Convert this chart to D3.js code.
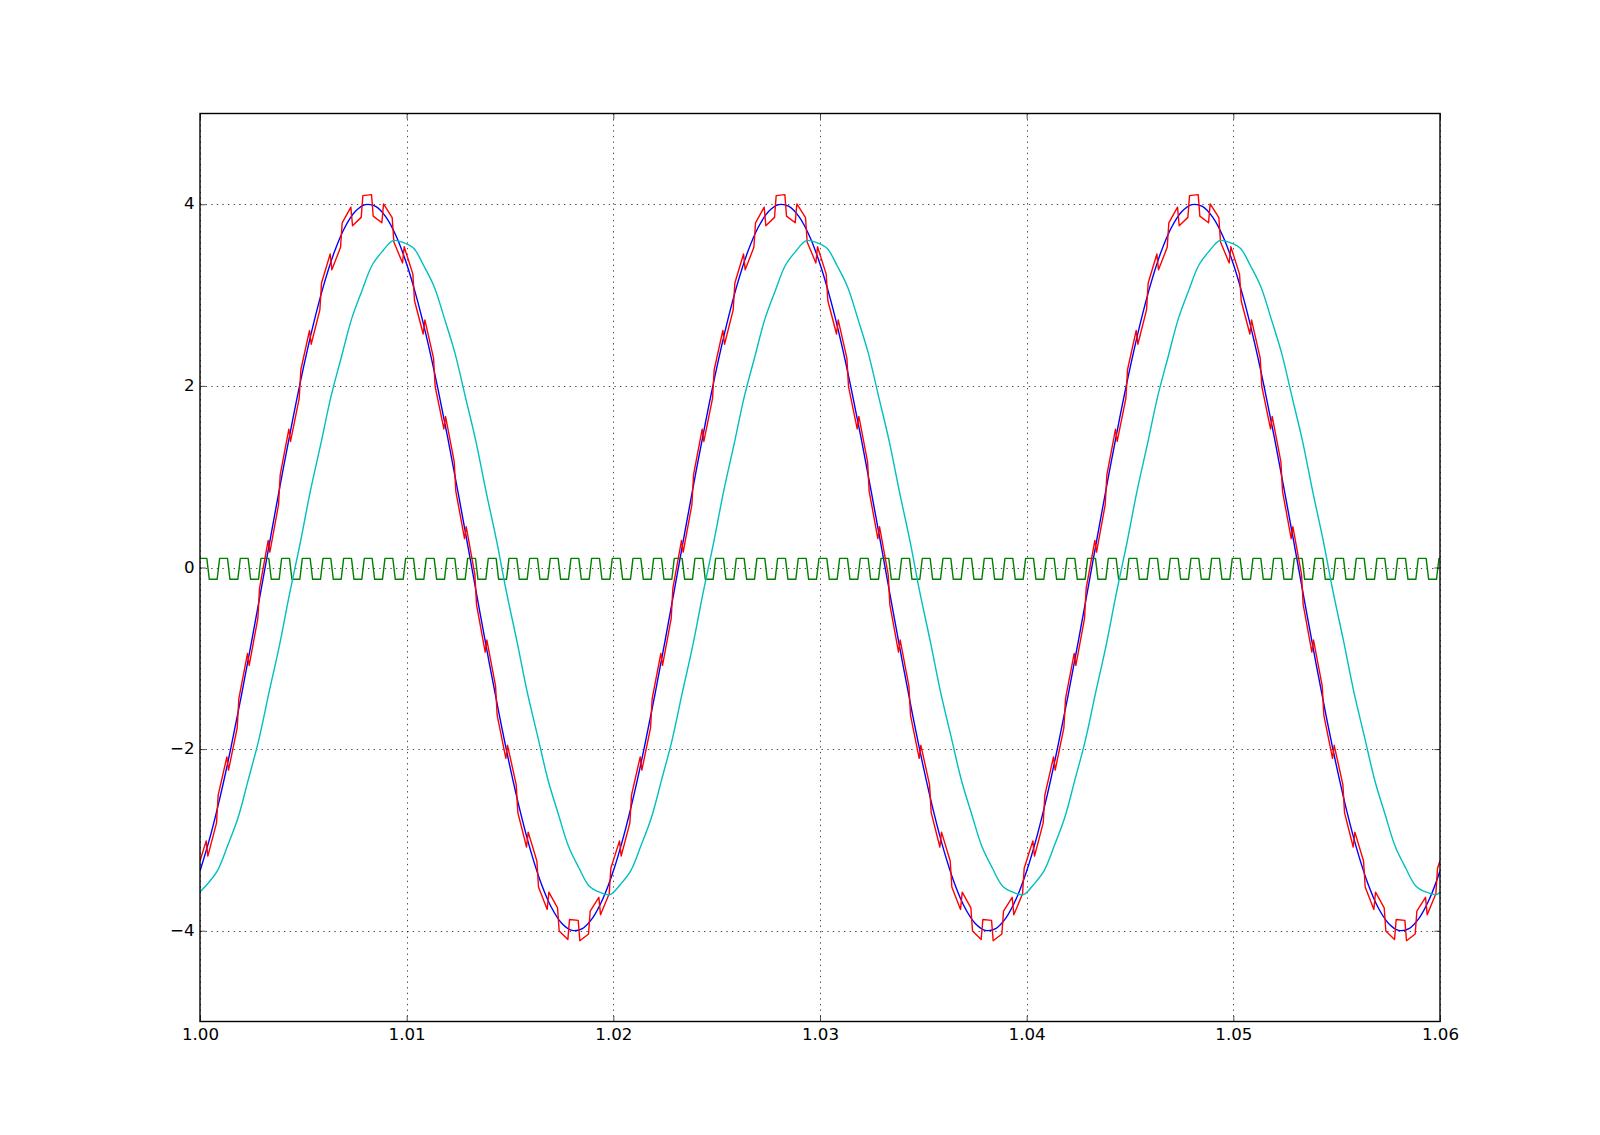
<!DOCTYPE html>
<html>
<head>
<meta charset="utf-8">
<script src="https://cdn.jsdelivr.net/npm/d3@7"></script>
<style>
  html, body { margin: 0; padding: 0; background: #fff; }
  svg { display: block; }
</style>
</head>
<body>
<svg id="chart" width="1600" height="1135"></svg>
<script>
// ---------- data (time in ms after t = 1.00 s) ----------
const xTicks = [0, 10, 20, 30, 40, 50, 60];
const xTickLabels = ["1.00", "1.01", "1.02", "1.03", "1.04", "1.05", "1.06"];
const yTicks = [-4, -2, 0, 2, 4];
const yTickLabels = ["\u22124", "\u22122", "0", "2", "4"];

// blue: reference sine
const blueMs = [
0,0.5,1,1.5,2,2.5,3,3.5,4,4.5,5,5.5,6,6.5,7,7.5,8,8.5,9,9.5,
10,10.5,11,11.5,12,12.5,13,13.5,14,14.5,15,15.5,16,16.5,17,17.5,18,18.5,19,19.5,
20,20.5,21,21.5,22,22.5,23,23.5,24,24.5,25,25.5,26,26.5,27,27.5,28,28.5,29,29.5,
30,30.5,31,31.5,32,32.5,33,33.5,34,34.5,35,35.5,36,36.5,37,37.5,38,38.5,39,39.5,
40,40.5,41,41.5,42,42.5,43,43.5,44,44.5,45,45.5,46,46.5,47,47.5,48,48.5,49,49.5,
50,50.5,51,51.5,52,52.5,53,53.5,54,54.5,55,55.5,56,56.5,57,57.5,58,58.5,59,59.5,
60];
const blueV = [
-3.343,-2.958,-2.501,-1.982,-1.414,-0.811,-0.188,0.439,1.056,1.646,2.196,2.692,3.121,3.474,3.742,3.917,3.996,3.976,3.858,3.646,
3.343,2.958,2.501,1.982,1.414,0.811,0.188,-0.439,-1.056,-1.646,-2.196,-2.692,-3.121,-3.474,-3.742,-3.917,-3.996,-3.976,-3.858,-3.646,
-3.343,-2.958,-2.501,-1.982,-1.414,-0.811,-0.188,0.439,1.056,1.646,2.196,2.692,3.121,3.474,3.742,3.917,3.996,3.976,3.858,3.646,
3.343,2.958,2.501,1.982,1.414,0.811,0.188,-0.439,-1.056,-1.646,-2.196,-2.692,-3.121,-3.474,-3.742,-3.917,-3.996,-3.976,-3.858,-3.646,
-3.343,-2.958,-2.501,-1.982,-1.414,-0.811,-0.188,0.439,1.056,1.646,2.196,2.692,3.121,3.474,3.742,3.917,3.996,3.976,3.858,3.646,
3.343,2.958,2.501,1.982,1.414,0.811,0.188,-0.439,-1.056,-1.646,-2.196,-2.692,-3.121,-3.474,-3.742,-3.917,-3.996,-3.976,-3.858,-3.646,
-3.343];

// green: 1 kHz square ripple
const greenMs = [0,
0.33,0.45,0.83,0.95,1.33,1.45,1.83,1.95,2.33,2.45,2.83,2.95,3.33,3.45,3.83,3.95,4.33,4.45,4.83,4.95,
5.33,5.45,5.83,5.95,6.33,6.45,6.83,6.95,7.33,7.45,7.83,7.95,8.33,8.45,8.83,8.95,9.33,9.45,9.83,9.95,
10.33,10.45,10.83,10.95,11.33,11.45,11.83,11.95,12.33,12.45,12.83,12.95,13.33,13.45,13.83,13.95,14.33,14.45,14.83,14.95,
15.33,15.45,15.83,15.95,16.33,16.45,16.83,16.95,17.33,17.45,17.83,17.95,18.33,18.45,18.83,18.95,19.33,19.45,19.83,19.95,
20.33,20.45,20.83,20.95,21.33,21.45,21.83,21.95,22.33,22.45,22.83,22.95,23.33,23.45,23.83,23.95,24.33,24.45,24.83,24.95,
25.33,25.45,25.83,25.95,26.33,26.45,26.83,26.95,27.33,27.45,27.83,27.95,28.33,28.45,28.83,28.95,29.33,29.45,29.83,29.95,
30.33,30.45,30.83,30.95,31.33,31.45,31.83,31.95,32.33,32.45,32.83,32.95,33.33,33.45,33.83,33.95,34.33,34.45,34.83,34.95,
35.33,35.45,35.83,35.95,36.33,36.45,36.83,36.95,37.33,37.45,37.83,37.95,38.33,38.45,38.83,38.95,39.33,39.45,39.83,39.95,
40.33,40.45,40.83,40.95,41.33,41.45,41.83,41.95,42.33,42.45,42.83,42.95,43.33,43.45,43.83,43.95,44.33,44.45,44.83,44.95,
45.33,45.45,45.83,45.95,46.33,46.45,46.83,46.95,47.33,47.45,47.83,47.95,48.33,48.45,48.83,48.95,49.33,49.45,49.83,49.95,
50.33,50.45,50.83,50.95,51.33,51.45,51.83,51.95,52.33,52.45,52.83,52.95,53.33,53.45,53.83,53.95,54.33,54.45,54.83,54.95,
55.33,55.45,55.83,55.95,56.33,56.45,56.83,56.95,57.33,57.45,57.83,57.95,58.33,58.45,58.83,58.95,59.33,59.45,59.83,59.95,
60];
const greenV = [0.10,
0.10,-0.13,-0.13,0.10,0.10,-0.13,-0.13,0.10,0.10,-0.13,-0.13,0.10,0.10,-0.13,-0.13,0.10,0.10,-0.13,-0.13,0.10,
0.10,-0.13,-0.13,0.10,0.10,-0.13,-0.13,0.10,0.10,-0.13,-0.13,0.10,0.10,-0.13,-0.13,0.10,0.10,-0.13,-0.13,0.10,
0.10,-0.13,-0.13,0.10,0.10,-0.13,-0.13,0.10,0.10,-0.13,-0.13,0.10,0.10,-0.13,-0.13,0.10,0.10,-0.13,-0.13,0.10,
0.10,-0.13,-0.13,0.10,0.10,-0.13,-0.13,0.10,0.10,-0.13,-0.13,0.10,0.10,-0.13,-0.13,0.10,0.10,-0.13,-0.13,0.10,
0.10,-0.13,-0.13,0.10,0.10,-0.13,-0.13,0.10,0.10,-0.13,-0.13,0.10,0.10,-0.13,-0.13,0.10,0.10,-0.13,-0.13,0.10,
0.10,-0.13,-0.13,0.10,0.10,-0.13,-0.13,0.10,0.10,-0.13,-0.13,0.10,0.10,-0.13,-0.13,0.10,0.10,-0.13,-0.13,0.10,
0.10,-0.13,-0.13,0.10,0.10,-0.13,-0.13,0.10,0.10,-0.13,-0.13,0.10,0.10,-0.13,-0.13,0.10,0.10,-0.13,-0.13,0.10,
0.10,-0.13,-0.13,0.10,0.10,-0.13,-0.13,0.10,0.10,-0.13,-0.13,0.10,0.10,-0.13,-0.13,0.10,0.10,-0.13,-0.13,0.10,
0.10,-0.13,-0.13,0.10,0.10,-0.13,-0.13,0.10,0.10,-0.13,-0.13,0.10,0.10,-0.13,-0.13,0.10,0.10,-0.13,-0.13,0.10,
0.10,-0.13,-0.13,0.10,0.10,-0.13,-0.13,0.10,0.10,-0.13,-0.13,0.10,0.10,-0.13,-0.13,0.10,0.10,-0.13,-0.13,0.10,
0.10,-0.13,-0.13,0.10,0.10,-0.13,-0.13,0.10,0.10,-0.13,-0.13,0.10,0.10,-0.13,-0.13,0.10,0.10,-0.13,-0.13,0.10,
0.10,-0.13,-0.13,0.10,0.10,-0.13,-0.13,0.10,0.10,-0.13,-0.13,0.10,0.10,-0.13,-0.13,0.10,0.10,-0.13,-0.13,0.10,
0.10];

// red: sine with 1 kHz ripple
const redMs = [0,
0.3,0.38,0.8,0.88,1.3,1.38,1.8,1.88,2.3,2.38,2.8,2.88,3.3,3.38,3.8,3.88,4.3,4.38,4.8,4.88,
5.3,5.38,5.8,5.88,6.3,6.38,6.8,6.88,7.3,7.38,7.8,7.88,8.3,8.38,8.8,8.88,9.3,9.38,9.8,9.88,
10.3,10.38,10.8,10.88,11.3,11.38,11.8,11.88,12.3,12.38,12.8,12.88,13.3,13.38,13.8,13.88,14.3,14.38,14.8,14.88,
15.3,15.38,15.8,15.88,16.3,16.38,16.8,16.88,17.3,17.38,17.8,17.88,18.3,18.38,18.8,18.88,19.3,19.38,19.8,19.88,
20.3,20.38,20.8,20.88,21.3,21.38,21.8,21.88,22.3,22.38,22.8,22.88,23.3,23.38,23.8,23.88,24.3,24.38,24.8,24.88,
25.3,25.38,25.8,25.88,26.3,26.38,26.8,26.88,27.3,27.38,27.8,27.88,28.3,28.38,28.8,28.88,29.3,29.38,29.8,29.88,
30.3,30.38,30.8,30.88,31.3,31.38,31.8,31.88,32.3,32.38,32.8,32.88,33.3,33.38,33.8,33.88,34.3,34.38,34.8,34.88,
35.3,35.38,35.8,35.88,36.3,36.38,36.8,36.88,37.3,37.38,37.8,37.88,38.3,38.38,38.8,38.88,39.3,39.38,39.8,39.88,
40.3,40.38,40.8,40.88,41.3,41.38,41.8,41.88,42.3,42.38,42.8,42.88,43.3,43.38,43.8,43.88,44.3,44.38,44.8,44.88,
45.3,45.38,45.8,45.88,46.3,46.38,46.8,46.88,47.3,47.38,47.8,47.88,48.3,48.38,48.8,48.88,49.3,49.38,49.8,49.88,
50.3,50.38,50.8,50.88,51.3,51.38,51.8,51.88,52.3,52.38,52.8,52.88,53.3,53.38,53.8,53.88,54.3,54.38,54.8,54.88,
55.3,55.38,55.8,55.88,56.3,56.38,56.8,56.88,57.3,57.38,57.8,57.88,58.3,58.38,58.8,58.88,59.3,59.38,59.8,59.88,
60];
const redV = [-3.233,
-3.011,-3.178,-2.812,-2.507,-2.086,-2.231,-1.766,-1.444,-0.946,-1.078,-0.559,-0.229,0.298,0.169,0.691,1.019,1.524,1.388,1.862,2.178,
2.611,2.459,2.838,3.134,3.453,3.278,3.526,3.796,3.968,3.764,3.856,4.096,4.106,3.870,3.797,4.005,3.852,3.585,3.354,3.533,
3.231,2.938,2.572,2.727,2.306,1.991,1.526,1.664,1.166,0.838,0.319,0.449,-0.078,-0.409,-0.931,-0.799,-1.304,-1.628,-2.102,-1.958,
-2.391,-2.699,-3.078,-2.914,-3.233,-3.518,-3.766,-3.576,-3.748,-4.004,-4.096,-3.876,-3.886,-4.110,-4.037,-3.785,-3.632,-3.825,-3.594,-3.313,
-3.011,-3.178,-2.812,-2.507,-2.086,-2.231,-1.766,-1.444,-0.946,-1.078,-0.559,-0.229,0.298,0.169,0.691,1.019,1.524,1.388,1.862,2.178,
2.611,2.459,2.838,3.134,3.453,3.278,3.526,3.796,3.968,3.764,3.856,4.096,4.106,3.870,3.797,4.005,3.852,3.585,3.354,3.533,
3.231,2.938,2.572,2.727,2.306,1.991,1.526,1.664,1.166,0.838,0.319,0.449,-0.078,-0.409,-0.931,-0.799,-1.304,-1.628,-2.102,-1.958,
-2.391,-2.699,-3.078,-2.914,-3.233,-3.518,-3.766,-3.576,-3.748,-4.004,-4.096,-3.876,-3.886,-4.110,-4.037,-3.785,-3.632,-3.825,-3.594,-3.313,
-3.011,-3.178,-2.812,-2.507,-2.086,-2.231,-1.766,-1.444,-0.946,-1.078,-0.559,-0.229,0.298,0.169,0.691,1.019,1.524,1.388,1.862,2.178,
2.611,2.459,2.838,3.134,3.453,3.278,3.526,3.796,3.968,3.764,3.856,4.096,4.106,3.870,3.797,4.005,3.852,3.585,3.354,3.533,
3.231,2.938,2.572,2.727,2.306,1.991,1.526,1.664,1.166,0.838,0.319,0.449,-0.078,-0.409,-0.931,-0.799,-1.304,-1.628,-2.102,-1.958,
-2.391,-2.699,-3.078,-2.914,-3.233,-3.518,-3.766,-3.576,-3.748,-4.004,-4.096,-3.876,-3.886,-4.110,-4.037,-3.785,-3.632,-3.825,-3.594,-3.313,
-3.233];

// cyan: filtered output
const cyanMs = [0,
0.34,0.84,1.34,1.84,2.34,2.84,3.34,3.84,4.34,4.84,5.34,5.84,6.34,6.84,7.34,7.84,8.34,8.84,9.34,9.84,
10.34,10.84,11.34,11.84,12.34,12.84,13.34,13.84,14.34,14.84,15.34,15.84,16.34,16.84,17.34,17.84,18.34,18.84,19.34,19.84,
20.34,20.84,21.34,21.84,22.34,22.84,23.34,23.84,24.34,24.84,25.34,25.84,26.34,26.84,27.34,27.84,28.34,28.84,29.34,29.84,
30.34,30.84,31.34,31.84,32.34,32.84,33.34,33.84,34.34,34.84,35.34,35.84,36.34,36.84,37.34,37.84,38.34,38.84,39.34,39.84,
40.34,40.84,41.34,41.84,42.34,42.84,43.34,43.84,44.34,44.84,45.34,45.84,46.34,46.84,47.34,47.84,48.34,48.84,49.34,49.84,
50.34,50.84,51.34,51.84,52.34,52.84,53.34,53.84,54.34,54.84,55.34,55.84,56.34,56.84,57.34,57.84,58.34,58.84,59.34,59.84,
60];
const cyanV = [-3.573,
-3.491,-3.342,-3.063,-2.757,-2.334,-1.903,-1.376,-0.863,-0.282,0.259,0.841,1.355,1.884,2.316,2.741,3.052,3.334,3.486,3.600,3.578,
3.515,3.318,3.087,2.733,2.358,1.879,1.400,0.839,0.306,-0.283,-0.817,-1.379,-1.860,-2.340,-2.717,-3.076,-3.310,-3.510,-3.576,-3.602,
-3.491,-3.342,-3.063,-2.757,-2.334,-1.903,-1.376,-0.863,-0.282,0.259,0.841,1.355,1.884,2.316,2.741,3.052,3.334,3.486,3.600,3.578,
3.515,3.318,3.087,2.733,2.358,1.879,1.400,0.839,0.306,-0.283,-0.817,-1.379,-1.860,-2.340,-2.717,-3.076,-3.310,-3.510,-3.576,-3.602,
-3.491,-3.342,-3.063,-2.757,-2.334,-1.903,-1.376,-0.863,-0.282,0.259,0.841,1.355,1.884,2.316,2.741,3.052,3.334,3.486,3.600,3.578,
3.515,3.318,3.087,2.733,2.358,1.879,1.400,0.839,0.306,-0.283,-0.817,-1.379,-1.860,-2.340,-2.717,-3.076,-3.310,-3.510,-3.576,-3.602,
-3.573];

// ---------- drawing ----------
(function draw() {
  const W = 1600, H = 1135;
  const pL = 200, pR = 1440, pT = 113.5, pB = 1021.5;
  const FONT = "'DejaVu Sans', sans-serif";
  const FS = 16.67;

  const svg = d3.select("#chart");
  svg.append("rect").attr("width", W).attr("height", H).attr("fill", "#fff");

  const x = d3.scaleLinear().domain([0, 60]).range([pL, pR]);
  const y = d3.scaleLinear().domain([-5, 5]).range([pB, pT]);

  svg.append("clipPath").attr("id", "clip")
    .append("rect").attr("x", pL).attr("y", pT)
    .attr("width", pR - pL).attr("height", pB - pT);

  // grid
  const grid = svg.append("g")
    .attr("stroke", "#000").attr("stroke-width", 0.7)
    .attr("stroke-dasharray", "1.4,4.2");
  grid.selectAll("line.gx").data(xTicks).join("line")
    .attr("class", "gx")
    .attr("x1", d => Math.round(x(d)) + 0.5).attr("x2", d => Math.round(x(d)) + 0.5)
    .attr("y1", pT).attr("y2", pB);
  grid.selectAll("line.gy").data(yTicks).join("line")
    .attr("class", "gy")
    .attr("y1", d => Math.round(y(d)) + 0.5).attr("y2", d => Math.round(y(d)) + 0.5)
    .attr("x1", pL).attr("x2", pR);

  // series (drawn in plotting order)
  const line = d3.line().x(d => x(d[0])).y(d => y(d[1]));
  const plot = svg.append("g").attr("clip-path", "url(#clip)")
    .attr("fill", "none").attr("stroke-width", 1.4)
    .attr("stroke-linejoin", "round").attr("stroke-linecap", "butt");

  const series = [
    { t: blueMs, v: blueV, color: "#0000ff", curve: d3.curveCatmullRom },
    { t: greenMs, v: greenV, color: "#008000", curve: d3.curveLinear },
    { t: redMs, v: redV, color: "#ff0000", curve: d3.curveLinear },
    { t: cyanMs, v: cyanV, color: "#00bfbf", curve: d3.curveCatmullRom }
  ];
  series.forEach(s => {
    plot.append("path")
      .datum(d3.zip(s.t, s.v))
      .attr("stroke", s.color)
      .attr("d", line.curve(s.curve));
  });

  // axes (inward ticks on all four sides)
  const tickLen = 5.6;
  function styleAxis(g) {
    g.select(".domain").remove();
    g.selectAll(".tick line").attr("stroke", "#000").attr("stroke-width", 0.7);
    g.selectAll("text").attr("font-family", FONT).attr("font-size", FS).attr("fill", "#000");
  }
  svg.append("g").attr("transform", `translate(0,${pB})`)
    .call(d3.axisBottom(x).tickValues(xTicks).tickFormat((d, i) => xTickLabels[i])
      .tickSizeInner(-tickLen).tickSizeOuter(0).tickPadding(6.6))
    .call(styleAxis);
  svg.append("g").attr("transform", `translate(0,${pT})`)
    .call(d3.axisTop(x).tickValues(xTicks).tickFormat("")
      .tickSizeInner(-tickLen).tickSizeOuter(0))
    .call(styleAxis);
  svg.append("g").attr("transform", `translate(${pL},0)`)
    .call(d3.axisLeft(y).tickValues(yTicks).tickFormat((d, i) => yTickLabels[i])
      .tickSizeInner(-tickLen).tickSizeOuter(0).tickPadding(5.5))
    .call(styleAxis)
    .call(g => g.selectAll("text").attr("dy", "0.28em"));
  svg.append("g").attr("transform", `translate(${pR},0)`)
    .call(d3.axisRight(y).tickValues(yTicks).tickFormat("")
      .tickSizeInner(-tickLen).tickSizeOuter(0))
    .call(styleAxis);

  // frame
  svg.append("rect")
    .attr("x", pL).attr("y", pT)
    .attr("width", pR - pL).attr("height", pB - pT)
    .attr("fill", "none").attr("stroke", "#000").attr("stroke-width", 1.4);
})();
</script>
</body>
</html>
